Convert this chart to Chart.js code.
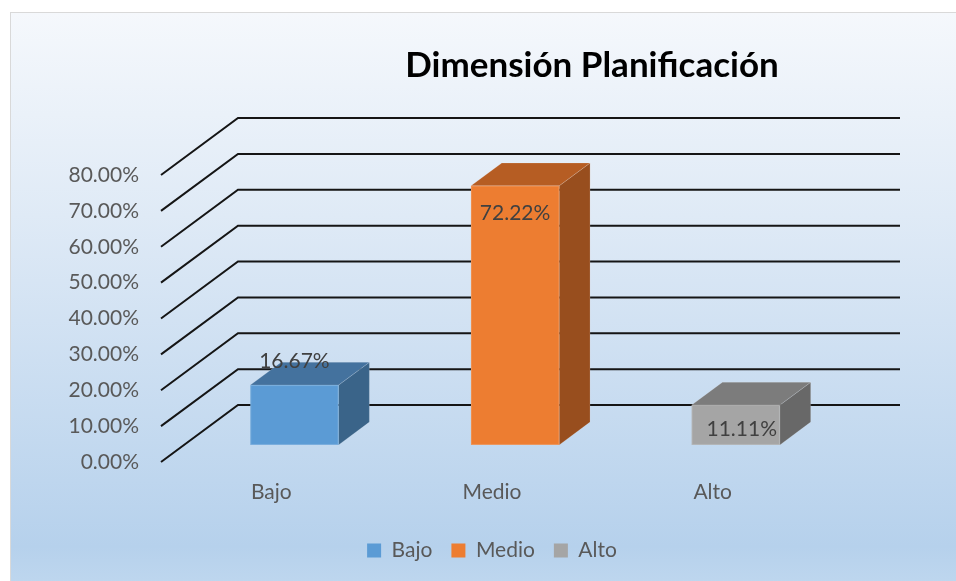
<!DOCTYPE html>
<html>
<head>
<meta charset="utf-8">
<script src="https://cdn.jsdelivr.net/npm/chart.js@4.4.1/dist/chart.umd.min.js"></script>
<style>
  body { margin: 0; background: #ffffff; }
  #marco {
    position: absolute; left: 10px; top: 12px; width: 960px; height: 580px;
    border: 1px solid #d9d9d9;
    background: linear-gradient(#f5f8fc 0%, #dfeaf6 35%, #b6d1ec 92%, #c0d8ef 100%);
  }
  #grafica { position: absolute; left: 0; top: 0; }
</style>
</head>
<body>
<div id="marco"></div>
<canvas id="grafica" width="956" height="581"></canvas>
<script>
const categorias = ['Bajo', 'Medio', 'Alto'];
const porcentajes = [16.67, 72.22, 11.11];
const ejeMax = 80;
const ejePaso = 10;

const colorFrente = ['#5b9bd5', '#ed7d31', '#a5a5a5'];
const colorTapa = ['#44729e', '#b65d23', '#7c7c7c'];
const colorLado = ['#3a6489', '#984e1e', '#686868'];

const fuente = 'Lato, "Liberation Sans", sans-serif';

// profundidad del "3D": desplazamiento del fondo respecto al frente
const fondo = { dx: 77, dy: -57 };
const barraIni = 0.3, barraFin = 0.7;
// ajuste fino de las etiquetas (como las coloco Excel)
const etiquetaDesp = [[0, -24], [0, 27], [6, 24]];

const grafico3d = {
    id: 'grafico3d',
    beforeDatasetsDraw(chart) {
        const { ctx, chartArea, scales: { y } } = chart;
        ctx.save();
        ctx.strokeStyle = '#151515';
        ctx.lineWidth = 2;
        for (let v = 0; v <= ejeMax; v += ejePaso) {
            const py = y.getPixelForValue(v);
            ctx.beginPath();
            ctx.moveTo(chartArea.left, py);
            ctx.lineTo(chartArea.left + fondo.dx, py + fondo.dy);
            ctx.lineTo(chartArea.right + fondo.dx, py + fondo.dy);
            ctx.stroke();
        }
        ctx.restore();
    },
    afterDatasetsDraw(chart) {
        const { ctx } = chart;
        const meta = chart.getDatasetMeta(0);
        const ox1 = fondo.dx * barraIni, oy1 = fondo.dy * barraIni;
        const ox2 = fondo.dx * barraFin, oy2 = fondo.dy * barraFin;
        ctx.save();
        ctx.lineWidth = 1;
        meta.data.forEach((barra, i) => {
            const { x, y, base, width } = barra.getProps(['x', 'y', 'base', 'width'], true);
            const L = x - width / 2, R = x + width / 2;
            // lado derecho
            ctx.fillStyle = colorLado[i];
            ctx.strokeStyle = 'rgba(255,255,255,0.15)';
            ctx.beginPath();
            ctx.moveTo(R + ox1, y + oy1);
            ctx.lineTo(R + ox2, y + oy2);
            ctx.lineTo(R + ox2, base + oy2);
            ctx.lineTo(R + ox1, base + oy1);
            ctx.closePath();
            ctx.fill();
            ctx.stroke();
            // tapa
            ctx.fillStyle = colorTapa[i];
            ctx.beginPath();
            ctx.moveTo(L + ox1, y + oy1);
            ctx.lineTo(R + ox1, y + oy1);
            ctx.lineTo(R + ox2, y + oy2);
            ctx.lineTo(L + ox2, y + oy2);
            ctx.closePath();
            ctx.fill();
            ctx.stroke();
            // frente
            ctx.fillStyle = colorFrente[i];
            ctx.fillRect(L + ox1, y + oy1, width, base - y);
            ctx.strokeRect(L + ox1 + 0.5, y + oy1 + 0.5, width - 1, base - y - 1);
        });
        // etiquetas de datos
        ctx.fillStyle = '#404040';
        ctx.font = '21px ' + fuente;
        ctx.textAlign = 'center';
        ctx.textBaseline = 'middle';
        meta.data.forEach((barra, i) => {
            const { x, y } = barra.getProps(['x', 'y'], true);
            ctx.fillText(porcentajes[i].toFixed(2) + '%',
                x + ox1 + etiquetaDesp[i][0], y + oy1 + etiquetaDesp[i][1]);
        });
        ctx.restore();
    },
    afterDraw(chart) {
        const { ctx } = chart;
        ctx.save();
        ctx.fillStyle = '#000000';
        ctx.font = 'bold 35px ' + fuente;
        ctx.textAlign = 'center';
        ctx.textBaseline = 'middle';
        ctx.fillText('Dimensión Planificación', 592, 66);
        ctx.restore();
    }
};

const ctx = document.getElementById('grafica').getContext('2d');

const myChart = new Chart(ctx, {
    type: 'bar',
    data: {
        labels: categorias,
        datasets: [{
            label: 'Dimensión Planificación',
            data: porcentajes,
            backgroundColor: 'rgba(0,0,0,0)',
            barPercentage: 0.4,
            categoryPercentage: 1.0
        }]
    },
    options: {
        responsive: false,
        animation: false,
        layout: {
            padding: { left: 0, top: 175, right: 133, bottom: 10 }
        },
        scales: {
            x: {
                grid: { display: false, drawTicks: false },
                border: { display: false },
                ticks: { color: '#595959', font: { size: 21, family: fuente }, padding: 18 },
                afterFit: (s) => { s.height = 59; }
            },
            y: {
                min: 0,
                max: ejeMax,
                grid: { display: false, drawTicks: false },
                border: { display: false },
                ticks: {
                    stepSize: ejePaso,
                    color: '#595959',
                    font: { size: 21, family: fuente },
                    padding: 22,
                    callback: (v) => v.toFixed(2) + '%'
                },
                afterFit: (s) => { s.width = 161; }
            }
        },
        plugins: {
            legend: {
                position: 'bottom',
                fullSize: false,
                labels: {
                    boxWidth: 14,
                    boxHeight: 14,
                    padding: 19,
                    color: '#595959',
                    font: { size: 21, family: fuente },
                    generateLabels: () => categorias.map((c, i) => ({
                        text: c,
                        fillStyle: colorFrente[i],
                        strokeStyle: colorFrente[i],
                        lineWidth: 0,
                        fontColor: '#595959',
                        index: i
                    }))
                }
            },
            tooltip: { enabled: false },
            title: { display: false }
        }
    },
    plugins: [grafico3d]
});
</script>
</body>
</html>
